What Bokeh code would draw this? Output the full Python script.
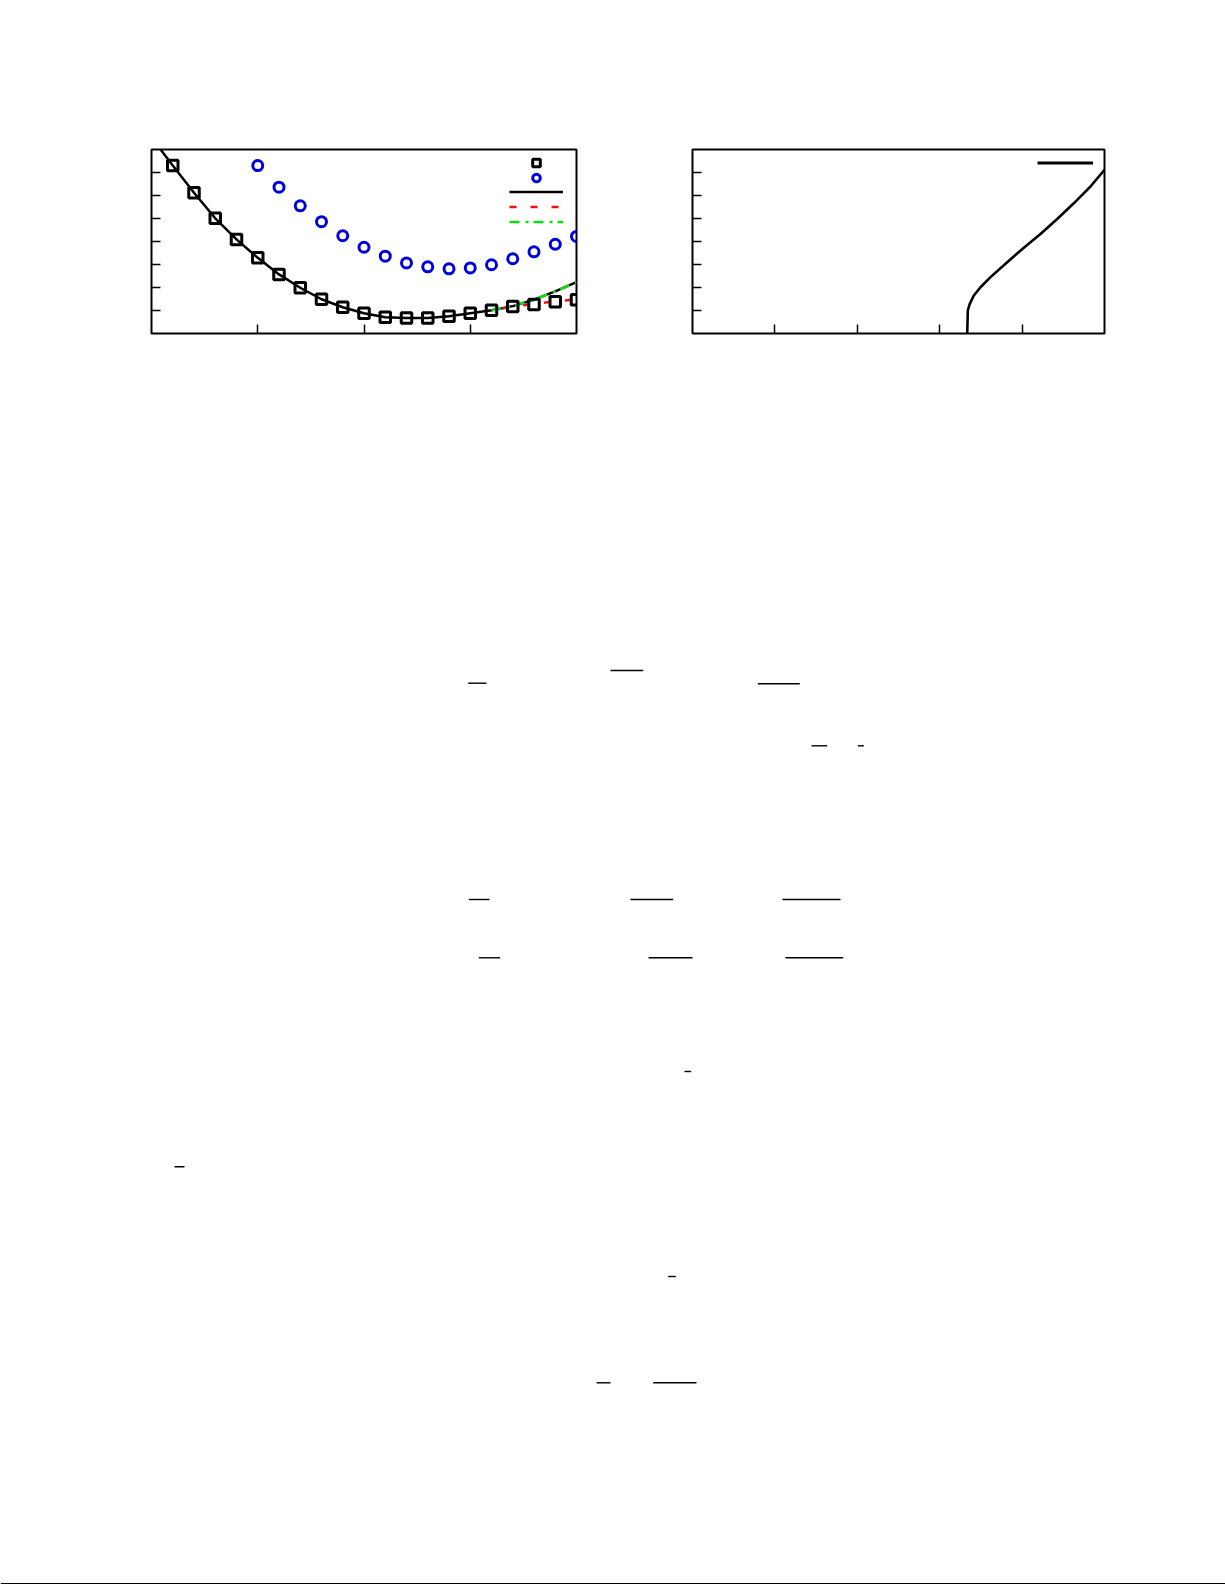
from bokeh.plotting import figure
from bokeh.models import (Range1d, FixedTicker, CustomJSTickFormatter, Legend,
                          LegendItem)
from bokeh.layouts import column, row
from bokeh.embed import file_html
from bokeh.resources import INLINE

NAN = float("nan")

# ---------------- data (left panel) ----------------
sq_x = [0.2, 0.4, 0.6, 0.8, 1.0, 1.2, 1.4, 1.6, 1.8, 2.0,
        2.2, 2.4, 2.6, 2.8, 3.0, 3.2, 3.4, 3.6, 3.8, 4.0]
sq_y = [7.30, 6.12, 5.01, 4.09, 3.29, 2.57, 1.99, 1.49, 1.14, 0.88,
        0.71, 0.67, 0.67, 0.75, 0.88, 1.01, 1.17, 1.26, 1.38, 1.47]

circ_x = [1.0, 1.2, 1.4, 1.6, 1.8, 2.0, 2.2, 2.4, 2.6, 2.8,
          3.0, 3.2, 3.4, 3.6, 3.8, 4.0]
circ_y = [7.30, 6.36, 5.55, 4.86, 4.25, 3.75, 3.36, 3.07, 2.90, 2.81,
          2.85, 2.99, 3.25, 3.55, 3.88, 4.22]

solid_x = [0.085, 0.2, 0.4, 0.6, 0.8, 1.0, 1.2, 1.4, 1.6, 1.8, 2.0,
           2.2, 2.4, 2.6, 2.8, 3.0, 3.2, 3.4, 3.6, 3.8, 4.0]
solid_y = [8.0, 7.30, 6.12, 5.01, 4.09, 3.29, 2.57, 1.99, 1.49, 1.14, 0.88,
           0.71, 0.67, 0.67, 0.75, 0.88, 1.01, 1.19, 1.47, 1.83, 2.23]

red_x = [3.2, 3.4, 3.6, 3.8, 4.0]
red_y = [1.01, 1.17, 1.28, 1.40, 1.48]

green_x = [3.2, 3.4, 3.6, 3.8, 4.0]
green_y = [1.01, 1.19, 1.47, 1.83, 2.23]

left_xticks = [1, 2, 3]
left_yticks = [1, 2, 3, 4, 5, 6, 7]

# ---------------- data (right panel) ----------------
curve_x = [3.334, 3.341, 3.365, 3.414, 3.495, 3.617, 3.819, 4.021,
           4.223, 4.426, 4.627, 4.830, 5.0]
curve_y = [0.0, 1.0, 1.29, 1.65, 2.01, 2.45, 3.10, 3.73,
           4.33, 4.98, 5.66, 6.39, 7.12]

right_xticks = [1, 2, 3, 4]
right_yticks = [1, 2, 3, 4, 5, 6, 7]

# ---------------- page decorations (fraction bars, page-pixel units) ------
bar_x0 = [467.7, 610.0, 757.3, 811.0, 857.3, 468.3, 630.0, 782.0,
          478.3, 648.0, 785.0, 684.0, 174.0, 667.7, 596.0, 652.7]
bar_x1 = [486.0, 642.7, 799.3, 826.7, 863.3, 489.0, 672.7, 840.0,
          499.7, 692.0, 842.7, 690.7, 184.0, 675.3, 610.0, 696.0]
bar_y = [682.7, 670.0, 683.3, 745.3, 745.3, 899.0, 899.0, 899.0,
         957.3, 957.3, 957.3, 1071.0, 1166.3, 1276.0, 1382.3, 1382.3]


def style_axes(p, xt, yt):
    for ax, ticks in ((p.xaxis[0], xt), (p.yaxis[0], yt)):
        ax.ticker = FixedTicker(ticks=ticks)
        ax.formatter = CustomJSTickFormatter(code="return '';")
        ax.axis_line_color = None
        ax.major_tick_in = 9
        ax.major_tick_out = 0
        ax.major_tick_line_width = 1.5
        ax.major_tick_line_color = "black"
        ax.minor_tick_line_color = None
        ax.major_label_text_font_size = "0px"
    p.xgrid.visible = False
    p.ygrid.visible = False
    p.outline_line_color = "black"
    p.outline_line_width = 2
    p.outline_line_alpha = 1.0


def make_legend(items, loc, gw, gh):
    return Legend(items=items, location=loc, glyph_width=gw, glyph_height=gh,
                  label_height=gh, label_width=0, label_standoff=0,
                  spacing=0, padding=0, margin=0, border_line_color=None,
                  background_fill_alpha=0, label_text_font_size="1px")


# ---------------- left figure ----------------
p1 = figure(frame_width=425, frame_height=184, width=634, height=343,
            min_border_left=151, min_border_right=58, min_border_top=149,
            min_border_bottom=10, x_range=Range1d(0, 4), y_range=Range1d(0, 8),
            output_backend="svg", toolbar_location=None)
style_axes(p1, left_xticks, left_yticks)

r_solid = p1.line(solid_x, solid_y, line_color="black", line_width=2.5)
p1.line(red_x, red_y, line_color="#ee1111", line_width=2.5,
        line_dash="7 14", line_dash_offset=10)
r_green = p1.line(green_x, green_y, line_color="#11dd11", line_width=2.5,
                  line_dash="10 6 3 5")
r_sq = p1.scatter(sq_x, sq_y, marker="square", size=10.5, fill_color=None,
                  line_color="black", line_width=3)
r_circ = p1.scatter(circ_x, circ_y, marker="circle", size=10, fill_color=None,
                    line_color="#0000dd", line_width=3)
# legend sample for the dashed series (same style, dash phase from start)
r_red_key = p1.line([NAN, NAN], [NAN, NAN], line_color="#ee1111",
                    line_width=2.5, line_dash="7 14")

p1.add_layout(make_legend([LegendItem(label="", renderers=[r_sq])],
                          (358, 161), 54, 19))
p1.add_layout(make_legend([LegendItem(label="", renderers=[r_circ])],
                          (358, 146), 54, 19))
p1.add_layout(make_legend([LegendItem(label="", renderers=[r_solid]),
                           LegendItem(label="", renderers=[r_red_key]),
                           LegendItem(label="", renderers=[r_green])],
                          (358, 104), 54, 15))

# ---------------- right figure ----------------
p2 = figure(frame_width=412, frame_height=184, width=591, height=343,
            min_border_left=58, min_border_right=121, min_border_top=149,
            min_border_bottom=10, x_range=Range1d(0, 5), y_range=Range1d(0, 8),
            output_backend="svg", toolbar_location=None)
style_axes(p2, right_xticks, right_yticks)
p2.line(curve_x, curve_y, line_color="black", line_width=2.6)
r_curve_key = p2.line([NAN, NAN], [NAN, NAN], line_color="black",
                      line_width=3)
p2.add_layout(make_legend([LegendItem(label="", renderers=[r_curve_key])],
                          (345, 163), 56, 15))

# ---------------- page area below ----------------
page = figure(width=1225, height=1241, x_range=Range1d(0, 1225),
              y_range=Range1d(1584, 343), output_backend="svg",
              toolbar_location=None, min_border=0)
page.axis.visible = False
page.xgrid.visible = False
page.ygrid.visible = False
page.outline_line_color = None
page.segment(x0=bar_x0, y0=bar_y, x1=bar_x1, y1=bar_y,
             line_color="black", line_width=1.4)
page.segment(x0=[0], y0=[1583.2], x1=[1225], y1=[1583.2],
             line_color="black", line_width=1.6)

layout = column(row(p1, p2, spacing=0), page, spacing=0)
open("out.html", "w").write(file_html(layout, INLINE))
